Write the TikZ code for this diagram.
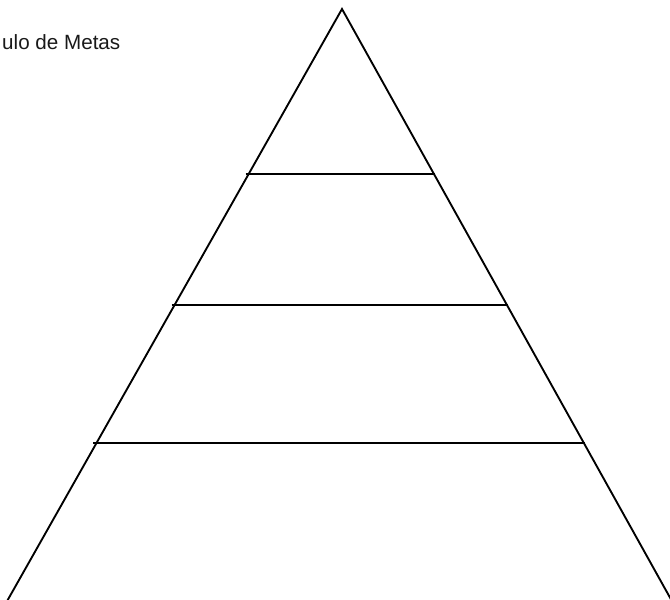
\documentclass[tikz,border=0pt]{standalone}
\usepackage{fontspec}
\setmainfont{Liberation Sans}
\usepackage{tikz}
\usetikzlibrary{calc}

\begin{document}
\begin{tikzpicture}[
  x=0.03cm,y=-0.03cm,
  edge/.style={line width=1.6pt,draw=black,line join=miter},
  level/.style={line width=1.6pt,draw=black},
  title/.style={font=\fontsize{17.6}{21}\selectfont,text=black!90,anchor=base west,inner sep=0pt}
]
\useasboundingbox (0,0) rectangle (670,600);
\clip (0,0) rectangle (670,600);
% corners of the pyramid
\coordinate (top) at (342,9);
\coordinate (bl) at (6,603);
\coordinate (br) at (673,603);
\draw[edge] (bl) -- (top) -- (br);
% dividing lines
\foreach \t/\n in {0.278/a,0.498/b,0.731/c}{
  \coordinate (l\n) at ($(top)!\t!(bl)+(-3,0)$);
  \coordinate (r\n) at ($(top)!\t!(br)+(1,0)$);
  \draw[level] (l\n) -- (r\n);
}
\node[title] (name) at (2,50) {ulo de Metas};
\end{tikzpicture}
\end{document}
